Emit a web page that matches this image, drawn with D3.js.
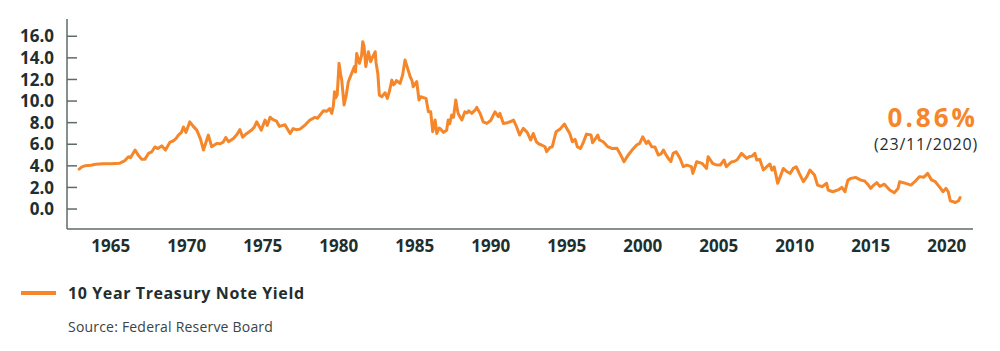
<!DOCTYPE html>
<html>
<head>
<meta charset="utf-8">
<script src="https://cdn.jsdelivr.net/npm/d3@7"></script>
<style>
  body { margin: 0; background: #fff; }
  svg { display: block; font-family: "Open Sans", Lato, sans-serif; }
</style>
</head>
<body>
<svg id="chart" width="1000" height="351"></svg>
<script>
// decimal years and 10y yield (%)
const years = [
  1962.92, 1963.1, 1963.3, 1963.7, 1964.0, 1964.5, 1965.0, 1965.6, 1965.9, 1966.16,
  1966.3, 1966.6, 1966.8, 1967.04, 1967.25, 1967.48, 1967.7, 1967.9, 1968.1, 1968.35,
  1968.6, 1968.9, 1969.1, 1969.3, 1969.45, 1969.65, 1969.78, 1969.95, 1970.2, 1970.4,
  1970.66, 1970.9, 1971.1, 1971.42, 1971.64, 1971.97, 1972.2, 1972.4, 1972.57, 1972.75,
  1973.07, 1973.3, 1973.5, 1973.68, 1973.95, 1974.27, 1974.45, 1974.6, 1974.75, 1974.9,
  1975.15, 1975.3, 1975.48, 1975.65, 1975.9, 1976.1, 1976.46, 1976.8, 1977.0, 1977.2,
  1977.45, 1977.8, 1978.1, 1978.44, 1978.6, 1978.99, 1979.2, 1979.4, 1979.54, 1979.65,
  1979.72, 1979.8, 1979.9, 1980.02, 1980.12, 1980.2, 1980.35, 1980.5, 1980.63, 1980.85,
  1981.03, 1981.1, 1981.18, 1981.36, 1981.5, 1981.58, 1981.66, 1981.78, 1981.95, 1982.1,
  1982.2, 1982.4, 1982.45, 1982.57, 1982.67, 1982.83, 1983.05, 1983.2, 1983.35, 1983.49,
  1983.6, 1983.7, 1983.8, 1984.03, 1984.2, 1984.36, 1984.47, 1984.7, 1984.82, 1984.9,
  1985.13, 1985.28, 1985.4, 1985.6, 1985.74, 1985.9, 1986.05, 1986.18, 1986.34, 1986.45,
  1986.6, 1986.67, 1986.88, 1987.1, 1987.2, 1987.3, 1987.43, 1987.55, 1987.7, 1987.8,
  1987.87, 1988.1, 1988.3, 1988.45, 1988.55, 1988.75, 1989.0, 1989.08, 1989.3, 1989.5,
  1989.74, 1990.0, 1990.17, 1990.28, 1990.5, 1990.6, 1990.83, 1991.1, 1991.27, 1991.5,
  1991.7, 1991.9, 1992.14, 1992.4, 1992.63, 1992.8, 1993.0, 1993.2, 1993.35, 1993.57,
  1993.68, 1993.9, 1994.05, 1994.3, 1994.56, 1994.85, 1995.0, 1995.2, 1995.37, 1995.55,
  1995.7, 1995.9, 1996.1, 1996.3, 1996.6, 1996.7, 1996.9, 1997.04, 1997.15, 1997.4,
  1997.7, 1998.0, 1998.3, 1998.5, 1998.77, 1998.95, 1999.1, 1999.3, 1999.6, 1999.8,
  2000.0, 2000.23, 2000.37, 2000.59, 2000.8, 2001.03, 2001.2, 2001.36, 2001.5, 2001.68,
  2001.85, 2002.0, 2002.2, 2002.45, 2002.67, 2002.9, 2003.2, 2003.3, 2003.55, 2003.9,
  2004.2, 2004.3, 2004.6, 2004.8, 2005.1, 2005.35, 2005.5, 2005.85, 2006.0, 2006.2,
  2006.5, 2006.84, 2007.0, 2007.2, 2007.38, 2007.5, 2007.7, 2007.94, 2008.16, 2008.37,
  2008.5, 2008.65, 2008.88, 2009.05, 2009.25, 2009.5, 2009.7, 2009.9, 2010.1, 2010.3,
  2010.57, 2010.8, 2011.0, 2011.3, 2011.5, 2011.8, 2012.1, 2012.2, 2012.5, 2012.9,
  2013.1, 2013.3, 2013.5, 2013.7, 2014.0, 2014.35, 2014.6, 2014.8, 2015.0, 2015.2,
  2015.4, 2015.6, 2015.9, 2016.25, 2016.55, 2016.8, 2016.9, 2017.3, 2017.65, 2017.9,
  2018.2, 2018.5, 2018.75, 2019.0, 2019.25, 2019.6, 2019.75, 2019.95, 2020.1, 2020.24,
  2020.4, 2020.55, 2020.78, 2020.88
]
const yields = [
  3.70, 3.90, 4.00, 4.05, 4.15, 4.20, 4.20, 4.25, 4.45, 4.85,
  4.75, 5.46, 5.00, 4.60, 4.62, 5.15, 5.30, 5.75, 5.60, 5.85,
  5.46, 6.20, 6.30, 6.55, 6.85, 7.10, 7.60, 7.10, 8.08, 7.70,
  7.31, 6.50, 5.46, 6.85, 5.77, 6.08, 6.05, 6.20, 6.63, 6.23,
  6.54, 6.90, 7.35, 6.65, 7.00, 7.31, 7.60, 8.08, 7.70, 7.31,
  8.24, 7.75, 8.50, 8.30, 8.15, 7.65, 7.80, 7.00, 7.45, 7.35,
  7.40, 7.80, 8.24, 8.50, 8.40, 9.10, 9.05, 9.30, 8.85, 9.60,
  10.86, 10.30, 10.60, 13.49, 12.50, 11.90, 9.63, 10.60, 11.79, 12.56,
  13.20, 12.70, 14.40, 13.50, 14.20, 15.50, 15.10, 13.20, 14.57, 13.64,
  14.00, 14.57, 13.60, 12.56, 10.56, 10.40, 10.77, 10.25, 11.00, 11.94,
  11.50, 11.63, 11.90, 11.63, 12.40, 13.80, 13.30, 12.25, 11.90, 11.33,
  11.80, 10.10, 10.40, 10.30, 10.25, 9.00, 9.00, 7.16, 8.24, 7.00,
  7.50, 7.45, 7.10, 7.30, 8.24, 7.90, 8.70, 8.50, 10.10, 9.20,
  8.80, 8.24, 9.00, 8.90, 9.10, 8.86, 9.20, 9.41, 8.86, 8.08,
  7.93, 8.20, 8.70, 9.00, 8.55, 8.86, 7.93, 8.00, 8.08, 8.24,
  7.62, 6.85, 7.47, 7.10, 6.39, 7.00, 6.23, 6.00, 5.93, 5.77,
  5.31, 5.71, 5.77, 7.16, 7.40, 7.87, 7.47, 7.00, 6.23, 6.45,
  5.77, 5.60, 6.20, 6.94, 6.85, 6.14, 6.55, 6.85, 6.40, 6.23,
  5.77, 5.60, 5.62, 5.15, 4.38, 4.80, 5.10, 5.46, 5.93, 6.08,
  6.69, 6.08, 6.30, 5.77, 5.75, 5.00, 5.10, 5.46, 5.10, 4.69,
  4.40, 5.15, 5.30, 4.70, 3.92, 4.07, 3.92, 3.30, 4.38, 4.23,
  3.76, 4.85, 4.23, 4.10, 4.07, 4.54, 3.92, 4.38, 4.40, 4.54,
  5.15, 4.69, 4.85, 4.90, 5.15, 4.54, 4.60, 3.61, 3.92, 4.17,
  3.60, 3.90, 2.38, 3.00, 3.76, 3.45, 3.30, 3.76, 3.92, 3.30,
  2.53, 3.00, 3.61, 3.15, 2.22, 2.07, 2.38, 1.76, 1.60, 1.80,
  2.00, 1.60, 2.68, 2.84, 2.93, 2.68, 2.60, 2.30, 1.91, 2.22,
  2.44, 2.10, 2.30, 1.76, 1.51, 1.90, 2.53, 2.38, 2.22, 2.53,
  3.00, 2.95, 3.30, 2.70, 2.53, 1.91, 1.60, 1.91, 1.60, 0.74,
  0.70, 0.60, 0.77, 1.05
]
const yTicks = [0, 2, 4, 6, 8, 10, 12, 14, 16]
const yearTicks = [1965, 1970, 1975, 1980, 1985, 1990, 1995, 2000, 2005, 2010, 2015, 2020]
const seriesName = '10 Year Treasury Note Yield'
const lastValue = '0.86%'
const lastDate = '(23/11/2020)'
const sourceText = 'Source: Federal Reserve Board'

const orange = '#f5862a'
const ink = '#1f2e2e'
const axisGrey = '#5f6a6a'

const svg = d3.select('#chart')

const x = d3.scaleLinear().domain([1962.12, 2021.73]).range([67, 973])
const y = d3.scaleLinear().domain([-1.85, 17.6]).range([229, 19])

// y axis: ticks point inwards, labels on the left
const yAxis = svg.append('g').attr('transform', 'translate(67,0)')
yAxis.append('line')
  .attr('y1', y.range()[1]).attr('y2', y.range()[0])
  .attr('stroke', axisGrey).attr('stroke-width', 1.5)
yAxis.selectAll('.tick')
  .data(yTicks)
  .join('g')
  .attr('class', 'tick')
  .attr('transform', d => `translate(0,${y(d)})`)
  .each(function (d) {
    const g = d3.select(this)
    g.append('line').attr('x2', 10).attr('stroke', axisGrey).attr('stroke-width', 1.5)
    g.append('text')
      .attr('x', -13)
      .attr('dy', '0.36em')
      .attr('text-anchor', 'end')
      .attr('fill', ink)
      .attr('font-size', 17)
      .attr('font-weight', 700)
      .text(d3.format('.1f')(d))
  })

// x axis: plain baseline with year labels
const xAxis = svg.append('g').attr('transform', `translate(0,${y.range()[0]})`)
xAxis.append('line')
  .attr('x1', x.range()[0]).attr('x2', x.range()[1])
  .attr('stroke', axisGrey).attr('stroke-width', 1.5)
xAxis.selectAll('text')
  .data(yearTicks)
  .join('text')
  .attr('x', d => x(d))
  .attr('y', 17)
  .attr('dy', '0.36em')
  .attr('text-anchor', 'middle')
  .attr('fill', ink)
  .attr('font-size', 17)
  .attr('font-weight', 700)
  .text(d => d)

const points = years.map((t, i) => [t, yields[i]])
const line = d3.line().x(d => x(d[0])).y(d => y(d[1]))

svg.append('path')
  .datum(points)
  .attr('d', line)
  .attr('fill', 'none')
  .attr('stroke', orange)
  .attr('stroke-width', 3)
  .attr('stroke-linejoin', 'round')
  .attr('stroke-linecap', 'round')

// end-of-series callout
svg.append('text')
  .attr('x', 978).attr('y', 127)
  .attr('text-anchor', 'end')
  .attr('fill', orange)
  .attr('font-size', 26)
  .attr('font-weight', 700)
  .attr('letter-spacing', 3)
  .text(lastValue)
svg.append('text')
  .attr('x', 978).attr('y', 150)
  .attr('text-anchor', 'end')
  .attr('fill', ink)
  .attr('font-size', 16)
  .attr('letter-spacing', 0.8)
  .text(lastDate)

// legend
const legend = svg.append('g').attr('transform', 'translate(0,293)')
legend.append('line')
  .attr('x1', 21).attr('x2', 56)
  .attr('stroke', orange).attr('stroke-width', 4)
legend.append('text')
  .attr('x', 68).attr('dy', '0.36em')
  .attr('fill', ink)
  .attr('font-size', 16)
  .attr('font-weight', 700)
  .attr('letter-spacing', 0.6)
  .text(seriesName)

svg.append('text')
  .attr('x', 68).attr('y', 332)
  .attr('fill', '#3a4444')
  .attr('font-size', 14)
  .attr('letter-spacing', 0.2)
  .text(sourceText)
</script>
</body>
</html>
